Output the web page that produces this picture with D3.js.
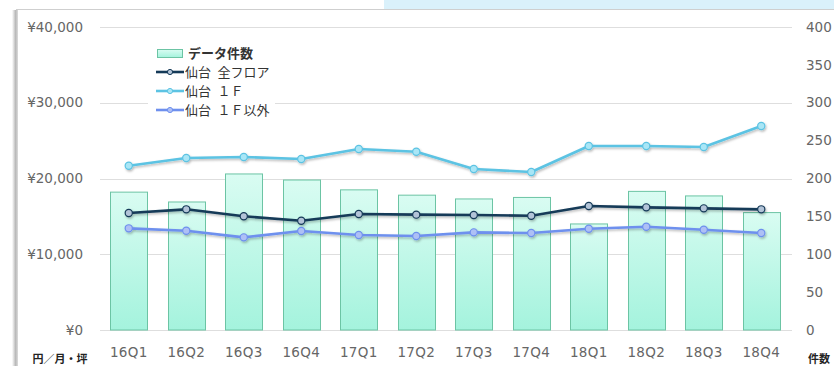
<!DOCTYPE html>
<html><head><meta charset="utf-8">
<script src="https://cdn.jsdelivr.net/npm/d3@7"></script>
<style>
html,body{margin:0;padding:0;background:#fff;overflow:hidden}
svg{display:block;font-family:"Noto Sans CJK JP","Noto Sans",sans-serif}
.num{font-family:"DejaVu Sans","Noto Sans",sans-serif}
</style></head>
<body>
<svg id="c" width="834" height="366"></svg>
<script>
const categories = ["16Q1","16Q2","16Q3","16Q4","17Q1","17Q2","17Q3","17Q4","18Q1","18Q2","18Q3","18Q4"];
const counts = [182,169,206,198,185,178,173,175,140,183,177,155];
const allFloors = [15450,15930,15010,14430,15310,15230,15180,15090,16370,16190,16060,15930];
const firstFloor = [21690,22700,22840,22570,23890,23540,21250,20860,24290,24290,24160,26930];
const otherFloors = [13420,13110,12230,13070,12540,12410,12890,12800,13370,13640,13240,12800];
const leftTicks = [0,10000,20000,30000,40000];
const rightTicks = [0,50,100,150,200,250,300,350,400];
const gridTicks = [0,100,200,300,400];
const seriesNames = ["データ件数","仙台 全フロア","仙台 1F","仙台 1F以外"];
const leftUnit = "円／月・坪";
const rightUnit = "件数";

const svg = d3.select("#c");
const defs = svg.append("defs");
const grad = defs.append("linearGradient").attr("id","barGrad").attr("x1",0).attr("y1",0).attr("x2",0).attr("y2",1);
grad.append("stop").attr("offset","0%").attr("stop-color","#d9fcf2");
grad.append("stop").attr("offset","100%").attr("stop-color","#a4f3dd");
const sh = defs.append("linearGradient").attr("id","shadowGrad").attr("x1",0).attr("y1",0).attr("x2",1).attr("y2",0);
sh.append("stop").attr("offset","0%").attr("stop-color","#ffffff");
sh.append("stop").attr("offset","60%").attr("stop-color","#b8b8b8");
sh.append("stop").attr("offset","100%").attr("stop-color","#dcdcdc");
const f = defs.append("filter").attr("id","ds").attr("x","-10%").attr("y","-50%").attr("width","120%").attr("height","200%");
f.append("feDropShadow").attr("dx",1).attr("dy",1.5).attr("stdDeviation",1.2).attr("flood-color","#000").attr("flood-opacity",0.28);

// frame decorations
svg.append("rect").attr("x",384).attr("y",0).attr("width",450).attr("height",9).attr("fill","#daf1fb");
svg.append("rect").attr("x",12).attr("y",10).attr("width",6).attr("height",356).attr("fill","url(#shadowGrad)");
svg.append("line").attr("x1",16).attr("x2",834).attr("y1",9.5).attr("y2",9.5).attr("stroke","#cfcfcf");

const x = d3.scaleBand().domain(categories).range([100,790]).paddingInner(0.35).paddingOuter(0.175);
const yL = d3.scaleLinear().domain([0,40000]).range([330,27]);
const yR = d3.scaleLinear().domain([0,400]).range([330,27]);

// grid
svg.append("g").selectAll("line").data(gridTicks).join("line")
  .attr("x1",100).attr("x2",792).attr("y1",d=>Math.round(yR(d))+0.5).attr("y2",d=>Math.round(yR(d))+0.5)
  .attr("stroke","#dedede");

// left axis labels
svg.append("g").attr("class","num").selectAll("text").data(leftTicks).join("text")
  .attr("x",83).attr("y",d=>yL(d)).attr("dy","0.35em").attr("text-anchor","end")
  .attr("font-size",13.5).attr("fill","#666").text(d=>"¥"+d3.format(",")(d));
// right axis labels
svg.append("g").attr("class","num").selectAll("text").data(rightTicks).join("text")
  .attr("x",806).attr("y",d=>yR(d)).attr("dy","0.35em").attr("text-anchor","start")
  .attr("font-size",13.5).attr("fill","#666").text(d=>d);
// x labels
svg.append("g").attr("class","num").selectAll("text").data(categories).join("text")
  .attr("x",d=>x(d)+x.bandwidth()/2).attr("y",352).attr("dy","0.35em").attr("text-anchor","middle")
  .attr("font-size",13.5).attr("letter-spacing",0.3).attr("fill","#666").text(d=>d);
// unit labels
svg.append("text").attr("x",60).attr("y",359).attr("dy","0.35em").attr("text-anchor","middle")
  .attr("font-size",11).attr("font-weight","bold").attr("fill","#222").text(leftUnit);
svg.append("text").attr("x",819).attr("y",359).attr("dy","0.35em").attr("text-anchor","middle")
  .attr("font-size",11).attr("font-weight","bold").attr("fill","#222").text(rightUnit);

// bars
svg.append("g").selectAll("rect").data(counts).join("rect")
  .attr("x",(d,i)=>Math.round(x(categories[i]))+0.5).attr("y",d=>yR(d))
  .attr("width",Math.round(x.bandwidth())).attr("height",d=>yR(0)-yR(d))
  .attr("fill","url(#barGrad)").attr("stroke","#6cc4a4").attr("stroke-width",1);

const series = [
  {vals:allFloors, color:"#153a58", pt:"#b3c4d8"},
  {vals:firstFloor, color:"#5cc3e3", pt:"#a9e6f6"},
  {vals:otherFloors, color:"#6e90ee", pt:"#aec0f5"}
];
const line = d3.line().x((d,i)=>x(categories[i])+x.bandwidth()/2).y(d=>yL(d));
series.forEach(s=>{
  const g = svg.append("g").attr("filter","url(#ds)");
  g.append("path").datum(s.vals).attr("d",line).attr("fill","none").attr("stroke",s.color).attr("stroke-width",2.6).attr("stroke-linejoin","round");
  g.selectAll("circle").data(s.vals).join("circle")
    .attr("cx",(d,i)=>x(categories[i])+x.bandwidth()/2).attr("cy",d=>yL(d)).attr("r",3.6)
    .attr("fill",s.pt).attr("stroke",s.color).attr("stroke-width",1.2);
});

// legend
const lg = svg.append("g");
lg.append("rect").attr("x",148).attr("y",40).attr("width",127).attr("height",78).attr("fill","#fff");
const ly = [53,72,91,110];
lg.append("rect").attr("x",157.5).attr("y",49.5).attr("width",25).attr("height",8).attr("fill","url(#barGrad)").attr("stroke","#6cc4a4");
series.forEach((s,i)=>{
  const yy = ly[i+1];
  lg.append("line").attr("x1",156).attr("x2",184).attr("y1",yy).attr("y2",yy).attr("stroke",s.color).attr("stroke-width",2.6);
  lg.append("circle").attr("cx",170).attr("cy",yy).attr("r",2.6).attr("fill",s.pt).attr("stroke",s.color).attr("stroke-width",1);
});
lg.selectAll("text").data(seriesNames).join("text")
  .attr("x",(d,i)=> i===0?188:185).attr("y",(d,i)=>ly[i]).attr("dy","0.35em")
  .attr("font-size",13).attr("font-weight",(d,i)=>i===0?"bold":"normal").attr("fill","#333")
  .text(d=>d.replace(" 1F"," １Ｆ").replace(/ /g,"\u2002"));
</script>
</body></html>
